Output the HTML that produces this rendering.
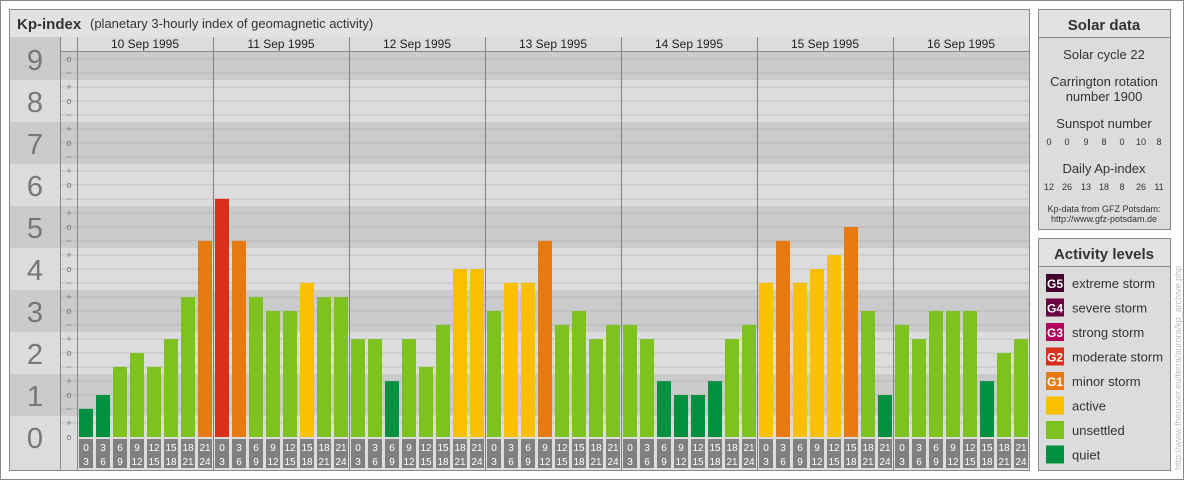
<!DOCTYPE html>
<html><head><meta charset="utf-8"><style>
body{margin:0;background:#fff;font-family:"Liberation Sans",sans-serif}
svg text{font-family:"Liberation Sans",sans-serif}
</style></head><body>
<svg id="s" width="1184" height="480" xmlns="http://www.w3.org/2000/svg">
<rect x="0.5" y="0.5" width="1183" height="479" fill="#fff" stroke="#888"/>
<rect x="9.5" y="9.5" width="1020" height="461" fill="#dcdcdc" stroke="#888"/>
<rect x="9.5" y="9.5" width="1020" height="28" fill="#e2e2e2" stroke="#888"/>
<text x="17" y="29" font-size="15" font-weight="bold" fill="#333">Kp-index</text>
<text x="90" y="28" font-size="13" fill="#333">(planetary 3-hourly index of geomagnetic activity)</text>
<g id="grid"></g><g id="bars"></g><g id="labels"></g>
<rect x="1038.5" y="9.5" width="132" height="220" fill="#dcdcdc" stroke="#888"/>
<rect x="1038.5" y="9.5" width="132" height="28" fill="#e2e2e2" stroke="#888"/>
<text x="1104" y="30" font-size="15" font-weight="bold" fill="#333" text-anchor="middle">Solar data</text>
<g font-size="13" fill="#333" text-anchor="middle">
<text x="1104" y="59">Solar cycle 22</text>
<text x="1104" y="86">Carrington rotation</text>
<text x="1104" y="101">number 1900</text>
<text x="1104" y="128">Sunspot number</text>
<text x="1104" y="173">Daily Ap-index</text>
<text x="1104" y="212" font-size="9">Kp-data from GFZ Potsdam:</text>
<text x="1104" y="222" font-size="9">http://www.gfz-potsdam.de</text>
</g>
<g id="nums" font-size="9" fill="#333" text-anchor="middle"></g>
<rect x="1038.5" y="238.5" width="132" height="232" fill="#dcdcdc" stroke="#888"/>
<rect x="1038.5" y="238.5" width="132" height="28" fill="#e2e2e2" stroke="#888"/>
<text x="1104" y="259" font-size="15" font-weight="bold" fill="#333" text-anchor="middle">Activity levels</text>
<g id="legend"></g>
<text transform="translate(1181,470) rotate(-90)" font-size="9" fill="#bbb">http://www.fheusner.eu/terra/aurora/kp_archive.php</text>
</svg>
<script>
const days=["10 Sep 1995","11 Sep 1995","12 Sep 1995","13 Sep 1995","14 Sep 1995","15 Sep 1995","16 Sep 1995"];
const kp=[0.67,1,1.67,2,1.67,2.33,3.33,4.67,
5.67,4.67,3.33,3,3,3.67,3.33,3.33,
2.33,2.33,1.33,2.33,1.67,2.67,4,4,
3,3.67,3.67,4.67,2.67,3,2.33,2.67,
2.67,2.33,1.33,1,1,1.33,2.33,2.67,
3.67,4.67,3.67,4,4.33,5,3,1,
2.67,2.33,3,3,3,1.33,2,2.33];
const sunspot=["0","0","9","8","0","10","8"];
const ap=["12","26","13","18","8","26","11"];
const levels=[["G5","extreme storm","#40002a"],["G4","severe storm","#6a0040"],["G3","strong storm","#b0005a"],["G2","moderate storm","#d9301c"],["G1","minor storm","#e87a14"],["","active","#f8c000"],["","unsettled","#7dc21e"],["","quiet","#009040"]];
const NS="http://www.w3.org/2000/svg";
function mk(p,t,a,txt){const e=document.createElementNS(NS,t);for(const k in a)e.setAttribute(k,a[k]);if(txt!==undefined)e.textContent=txt;p.appendChild(e);return e;}
const X0=77,SLOT=17,Y0=437,UNIT=42;
const y=v=>Y0-v*UNIT;
const g=document.getElementById('grid'),b=document.getElementById('bars'),l=document.getElementById('labels');
for(let n=0;n<=9;n++){
  const top=n==9?37:y(n+0.5),bot=n==0?Y0:y(n-0.5);
  const dark=n%2==1;
  const r=mk(g,'rect',{x:10,y:top,width:1019,height:bot-top,fill:dark?'#cbcbcb':'#dcdcdc'});
  
  const t=mk(g,'text',{x:35,y:(n==9?y(9):y(n))+11,'font-size':29,fill:'#777','text-anchor':'middle'},String(n));
  
}
mk(g,'rect',{x:60,y:37,width:969,height:14,fill:'#dcdcdc'});
for(let i=0;i<=27;i++){
  const v=i/3,yy=y(v);if(yy<52)continue;
  const n=Math.round(v),dark=n%2==1;
  if(i>0) mk(g,'line',{x1:60,x2:1029,y1:yy,y2:yy,stroke:dark?'#b8b8b8':'#c4c4c4'});
  const s=['o','+','−'][i%3];
  const t=mk(g,'text',{x:69,y:yy+3,'font-size':9,fill:'#777','text-anchor':'middle'},s);
  
}
mk(g,'line',{x1:60.5,x2:60.5,y1:37,y2:470,stroke:'#888'});
mk(g,'line',{x1:77.5,x2:77.5,y1:37,y2:470,stroke:'#888'});
mk(g,'line',{x1:60,x2:1029,y1:51.5,y2:51.5,stroke:'#888'});
days.forEach((d,i)=>{
  const x=X0+i*8*SLOT;
  if(i>0)mk(g,'line',{x1:x+0.5,x2:x+0.5,y1:37,y2:470,stroke:'#808080'});
  const t=mk(l,'text',{x:x+68,y:48,'font-size':12,fill:'#222','text-anchor':'middle'},d);
  
});
function col(v){const r=Math.round(v*3)/3;if(r>=9)return levels[0][2];if(r>=8)return levels[1][2];if(r>=7)return levels[2][2];if(r>=6-0.34)return levels[3][2];if(r>=5-0.34)return levels[4][2];if(r>=4-0.34)return levels[5][2];if(r>=2-0.34)return levels[6][2];return levels[7][2];}
kp.forEach((v,i)=>{
  const x=X0+i*SLOT+2;
  const r=mk(b,'rect',{x:x,y:y(v),width:14,height:v*UNIT,fill:col(v)});
  
  const h=(i%8)*3;
  const bx=mk(l,'rect',{x:x,y:439,width:14,height:29,fill:'#808080'});
  
  mk(l,'text',{x:x+7,y:451,'font-size':10,fill:'#fff','text-anchor':'middle'},String(h));
  mk(l,'text',{x:x+7,y:465,'font-size':10,fill:'#fff','text-anchor':'middle'},String(h+3));
});
const nm=document.getElementById('nums');
const nx=[1049,1067,1086,1104,1122,1141,1159];
sunspot.forEach((s,i)=>{const t=mk(nm,'text',{x:nx[i],y:145},s);});
ap.forEach((s,i)=>{const t=mk(nm,'text',{x:nx[i],y:190},s);});
const lg=document.getElementById('legend');
levels.forEach((lv,i)=>{
  const yy=274+i*24.5;
  const r=mk(lg,'rect',{x:1046,y:yy,width:18,height:18,fill:lv[2]});
  
  if(lv[0])mk(lg,'text',{x:1055,y:yy+14,'font-size':12,'font-weight':'bold',fill:'#fff','text-anchor':'middle'},lv[0]);
  const t=mk(lg,'text',{x:1072,y:yy+14,'font-size':13,fill:'#333'},lv[1]);
  
});
</script>
</body></html>
